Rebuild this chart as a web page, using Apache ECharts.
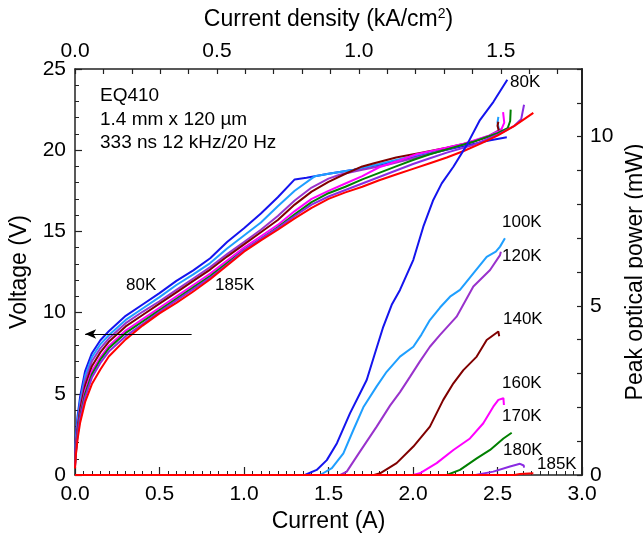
<!DOCTYPE html>
<html>
<head>
<meta charset="utf-8">
<script src="https://cdn.jsdelivr.net/npm/echarts@6/dist/echarts.min.js"></script>
<style>html,body{margin:0;padding:0;background:#fff}#c{width:643px;height:538px}</style>
</head>
<body>
<div id="c"></div>
<script>
// ---- Data (current in A, voltage in V) ----
const V80 = [[0,1.0],[0.005,2.4],[0.015,3.6],[0.03,4.8],[0.06,6.4],[0.1,7.5],[0.15,8.3],[0.2,8.85],[0.3,9.8],[0.4,10.5],[0.5,11.2],[0.6,11.95],[0.7,12.6],[0.8,13.35],[0.9,14.35],[1.0,15.2],[1.1,16.1],[1.2,17.1],[1.3,18.2],[1.37,18.3],[1.5,18.55],[1.65,18.8],[1.8,19.1],[1.92,19.4],[2.1,19.8],[2.3,20.25],[2.45,20.6],[2.555,20.8]];
const V100 = [[0,0.9],[0.005,2.1],[0.015,3.3],[0.03,4.5],[0.06,6.1],[0.1,7.25],[0.15,8.05],[0.2,8.6],[0.3,9.55],[0.4,10.25],[0.5,10.95],[0.6,11.7],[0.7,12.35],[0.8,13.05],[0.9,13.95],[1.0,14.75],[1.1,15.55],[1.2,16.55],[1.3,17.5],[1.42,18.4],[1.5,18.55],[1.65,18.8],[1.8,19.15],[1.92,19.45],[2.1,19.9],[2.3,20.35],[2.45,20.85],[2.51,21.2],[2.5,21.7],[2.505,22.05]];
const V120 = [[0,0.8],[0.005,1.9],[0.015,3.0],[0.03,4.2],[0.06,5.8],[0.1,7.0],[0.15,7.8],[0.2,8.4],[0.3,9.35],[0.4,10.05],[0.5,10.7],[0.6,11.4],[0.7,12.1],[0.8,12.8],[0.9,13.6],[1.0,14.35],[1.1,15.1],[1.2,15.95],[1.3,16.9],[1.4,17.7],[1.5,18.25],[1.57,18.5],[1.7,18.8],[1.85,19.1],[2.0,19.5],[2.15,19.9],[2.3,20.35],[2.45,20.9],[2.52,21.3]];
const V140 = [[0,0.7],[0.005,1.7],[0.015,2.8],[0.03,4.0],[0.06,5.5],[0.1,6.7],[0.15,7.55],[0.2,8.2],[0.3,9.15],[0.4,9.85],[0.5,10.55],[0.6,11.25],[0.7,11.95],[0.8,12.65],[0.9,13.45],[1.0,14.2],[1.1,14.95],[1.2,15.7],[1.3,16.65],[1.4,17.45],[1.5,18.05],[1.6,18.55],[1.7,19.0],[1.77,19.2],[1.9,19.55],[2.05,19.85],[2.2,20.15],[2.35,20.5],[2.48,20.95],[2.51,21.1],[2.5,21.5],[2.505,21.75]];
const V160 = [[0,0.6],[0.005,1.5],[0.015,2.6],[0.03,3.7],[0.06,5.2],[0.1,6.4],[0.15,7.25],[0.2,7.95],[0.3,8.9],[0.4,9.6],[0.5,10.3],[0.6,11.0],[0.7,11.7],[0.8,12.4],[0.9,13.2],[1.0,14.0],[1.1,14.7],[1.2,15.4],[1.3,16.25],[1.4,17.0],[1.5,17.5],[1.6,17.95],[1.7,18.4],[1.8,18.95],[1.9,19.3],[2.02,19.75],[2.15,20.05],[2.3,20.4],[2.45,20.9],[2.52,21.2],[2.54,21.7],[2.533,22.35]];
const V170 = [[0,0.6],[0.005,1.4],[0.015,2.5],[0.03,3.6],[0.06,5.0],[0.1,6.2],[0.15,7.1],[0.2,7.8],[0.3,8.75],[0.4,9.45],[0.5,10.15],[0.6,10.85],[0.7,11.55],[0.8,12.25],[0.9,13.05],[1.0,13.85],[1.1,14.55],[1.2,15.25],[1.3,16.05],[1.4,16.8],[1.5,17.35],[1.6,17.75],[1.7,18.2],[1.8,18.6],[1.9,19.0],[2.0,19.4],[2.1,19.75],[2.2,20.05],[2.35,20.5],[2.5,21.05],[2.56,21.35],[2.575,21.8],[2.578,22.5]];
const V180 = [[0,0.5],[0.005,1.3],[0.015,2.4],[0.03,3.5],[0.06,4.8],[0.1,6.0],[0.15,6.9],[0.2,7.6],[0.3,8.55],[0.4,9.3],[0.5,10.05],[0.6,10.75],[0.7,11.45],[0.8,12.15],[0.9,12.95],[1.0,13.85],[1.1,14.55],[1.2,15.2],[1.3,15.95],[1.4,16.65],[1.5,17.15],[1.6,17.55],[1.7,17.95],[1.8,18.35],[1.9,18.75],[2.0,19.15],[2.1,19.5],[2.2,19.85],[2.35,20.3],[2.5,20.95],[2.6,21.5],[2.64,21.9],[2.657,22.8]];
const V185 = [[0,0.4],[0.005,1.2],[0.015,2.2],[0.03,3.2],[0.06,4.5],[0.1,5.6],[0.15,6.5],[0.2,7.3],[0.3,8.35],[0.4,9.2],[0.5,9.95],[0.6,10.6],[0.7,11.3],[0.8,12.05],[0.9,12.9],[1.0,13.75],[1.1,14.45],[1.2,15.1],[1.3,15.8],[1.4,16.45],[1.5,17.0],[1.6,17.4],[1.7,17.75],[1.8,18.15],[1.9,18.5],[2.0,18.85],[2.1,19.2],[2.2,19.55],[2.3,19.95],[2.4,20.4],[2.5,20.9],[2.6,21.5],[2.712,22.3]];

// ---- Data (current in A, peak optical power in mW) ----
const L80 = [[0,0],[1.36,0],[1.43,0.15],[1.49,0.44],[1.55,0.94],[1.627,1.82],[1.686,2.41],[1.726,2.81],[1.775,3.6],[1.824,4.38],[1.874,5.03],[1.923,5.47],[2.002,6.36],[2.061,7.34],[2.12,8.13],[2.17,8.62],[2.239,9.11],[2.318,9.75],[2.396,10.49],[2.476,11.03],[2.558,11.68]];
const L100 = [[0,0],[1.45,0],[1.52,0.2],[1.588,0.64],[1.647,1.33],[1.706,2.0],[1.785,2.62],[1.844,3.05],[1.923,3.5],[2.002,3.79],[2.05,4.15],[2.1,4.58],[2.16,4.95],[2.219,5.27],[2.278,5.47],[2.357,5.96],[2.436,6.45],[2.49,6.6],[2.515,6.75],[2.544,7.0]];
const L120 = [[0,0],[1.57,0],[1.608,0.1],[1.686,0.69],[1.785,1.43],[1.864,2.05],[1.923,2.45],[1.982,2.9],[2.04,3.35],[2.1,3.79],[2.16,4.14],[2.258,4.68],[2.357,5.57],[2.456,6.06],[2.515,6.5],[2.52,6.6]];
const L140 = [[0,0],[1.77,0],[1.805,0.05],[1.903,0.35],[2.002,0.84],[2.1,1.43],[2.179,2.22],[2.239,2.71],[2.298,3.1],[2.377,3.5],[2.436,3.99],[2.505,4.24],[2.51,4.1]];
const L160 = [[0,0],[2.0,0],[2.04,0.05],[2.14,0.35],[2.239,0.74],[2.337,1.08],[2.416,1.53],[2.475,2.02],[2.505,2.22],[2.535,2.27],[2.538,2.07]];
const L170 = [[0,0],[2.2,0],[2.278,0.15],[2.377,0.49],[2.456,0.74],[2.535,1.08],[2.584,1.25]];
const L180 = [[0,0],[2.37,0],[2.475,0.1],[2.574,0.25],[2.633,0.33],[2.655,0.28],[2.657,0.22]];
const L185 = [[0,0],[2.6,0],[2.633,0.03],[2.712,0.05]];

const temps = ['80K','100K','120K','140K','160K','170K','180K','185K'];
const colors = ['#1414ee','#1e9fff','#9932cc','#800000','#ff00ff','#008000','#8a2be2','#ff0000'];
const vData = [V80,V100,V120,V140,V160,V170,V180,V185];
const lData = [L80,L100,L120,L140,L160,L170,L180,L185];

// tick labels
const xTicks = [0,0.5,1.0,1.5,2.0,2.5,3.0];
const jTicks = [0,0.5,1.0,1.5];
const vTicks = [0,5,10,15,20,25];
const pTicks = [0,5,10];
const areaCm2 = 0.14*0.012; // 1.4 mm x 120 um
const jMax = 3.0/areaCm2/1000; // kA/cm^2 at 3 A

const FONT = 'Liberation Sans, Arial, sans-serif';
const AX = '#222';
const TICKFS = 21, NAMEFS = 23;

const chart = echarts.init(document.getElementById('c'), null, {renderer:'canvas'});

const series = [];
vData.forEach((d,i)=>{
  const s = {type:'line', name:'V '+temps[i], data:d, xAxisIndex:0, yAxisIndex:0,
    showSymbol:false, symbol:'none', smooth:false, silent:true,
    lineStyle:{color:colors[i], width:2}, itemStyle:{color:colors[i]}, z:2};
  if(i===0){
    s.markLine = {silent:true, symbol:['none','arrow'], symbolSize:[7,11],
      label:{show:false}, lineStyle:{color:'#000', width:1, type:'solid'},
      data:[[{coord:[0.69,8.68]},{coord:[0.06,8.68]}]]};
  }
  series.push(s);
});
lData.forEach((d,i)=>{
  series.push({type:'line', name:'L '+temps[i], data:d, xAxisIndex:0, yAxisIndex:1,
    showSymbol:false, symbol:'none', silent:true,
    lineStyle:{color:colors[i], width:2}, itemStyle:{color:colors[i]}, z:3});
});

const near = (v, arr) => arr.some(t => Math.abs(t - v) < 1e-6);

const option = {
  animation:false,
  backgroundColor:'#fff',
  grid:{left:75, right:61, top:69, bottom:63, show:false, containLabel:false, outerBoundsMode:'none'},
  xAxis:[
    {type:'value', position:'bottom', min:0, max:3, interval:0.5,
     name:'Current (A)', nameLocation:'middle', nameGap:31,
     nameTextStyle:{fontFamily:FONT, fontSize:NAMEFS, color:'#000'},
     axisLine:{show:true, onZero:false, lineStyle:{color:AX, width:1.5}},
     axisTick:{show:true, inside:true, length:8, lineStyle:{color:AX, width:1.2}},
     minorTick:{show:true, splitNumber:10, length:4, lineStyle:{color:AX, width:1}},
     axisLabel:{fontFamily:FONT, fontSize:TICKFS, color:'#000', margin:9,
       formatter:v=> near(v,xTicks)? v.toFixed(1):''},
     splitLine:{show:false}, minorSplitLine:{show:false}},
    {type:'value', position:'top', min:0, max:jMax, interval:0.1,
     name:'Current density (kA/cm{sup|2})', nameLocation:'middle', nameGap:37,
     nameTextStyle:{fontFamily:FONT, fontSize:NAMEFS, color:'#000',
       rich:{sup:{fontFamily:FONT, fontSize:14, color:'#000', padding:[0,0,11,0]}}},
     axisLine:{show:true, onZero:false, lineStyle:{color:AX, width:1.5}},
     axisTick:{show:true, inside:true, length:5, lineStyle:{color:AX, width:1.2}},
     axisLabel:{fontFamily:FONT, fontSize:TICKFS, color:'#000', margin:7, showMaxLabel:false,
       formatter:v=> near(v,jTicks)? v.toFixed(1):''},
     splitLine:{show:false}}
  ],
  yAxis:[
    {type:'value', position:'left', min:0, max:25, interval:5,
     name:'Voltage (V)', nameLocation:'middle', nameGap:44, nameRotate:90,
     nameTextStyle:{fontFamily:FONT, fontSize:NAMEFS, color:'#000'},
     axisLine:{show:true, onZero:false, lineStyle:{color:AX, width:1.5}},
     axisTick:{show:true, inside:true, length:7, lineStyle:{color:AX, width:1.2}},
     minorTick:{show:true, splitNumber:5, length:4, lineStyle:{color:AX, width:1}},
     axisLabel:{fontFamily:FONT, fontSize:TICKFS, color:'#000', margin:9,
       formatter:v=> near(v,vTicks)? String(v):''},
     splitLine:{show:false}, minorSplitLine:{show:false}},
    {type:'value', position:'right', min:0, max:12, interval:1,
     name:'Peak optical power (mW)', nameLocation:'middle', nameGap:31, nameRotate:90,
     nameTextStyle:{fontFamily:FONT, fontSize:NAMEFS, color:'#000'},
     axisLine:{show:true, onZero:false, lineStyle:{color:AX, width:2}},
     axisTick:{show:true, inside:true, length:5, lineStyle:{color:AX, width:1.2}},
     axisLabel:{fontFamily:FONT, fontSize:TICKFS, color:'#000', margin:8,
       formatter:v=> near(v,pTicks)? String(v):''},
     splitLine:{show:false}}
  ],
  graphic:[
    {type:'text', left:100, top:86, style:{text:'EQ410', font:'19px '+FONT, fill:'#000'}},
    {type:'text', left:100, top:110, style:{text:'1.4 mm x 120 \u00b5m', font:'19px '+FONT, fill:'#000'}},
    {type:'text', left:100, top:133, style:{text:'333 ns 12 kHz/20 Hz', font:'19px '+FONT, fill:'#000'}},
    {type:'text', left:126, top:277, style:{text:'80K', font:'17px '+FONT, fill:'#000'}},
    {type:'text', left:215, top:277, style:{text:'185K', font:'17px '+FONT, fill:'#000'}},
    {type:'text', left:510, top:74, style:{text:'80K', font:'17px '+FONT, fill:'#000'}},
    {type:'text', left:502, top:214, style:{text:'100K', font:'17px '+FONT, fill:'#000'}},
    {type:'text', left:502, top:248, style:{text:'120K', font:'17px '+FONT, fill:'#000'}},
    {type:'text', left:503, top:311, style:{text:'140K', font:'17px '+FONT, fill:'#000'}},
    {type:'text', left:502, top:375, style:{text:'160K', font:'17px '+FONT, fill:'#000'}},
    {type:'text', left:502, top:408, style:{text:'170K', font:'17px '+FONT, fill:'#000'}},
    {type:'text', left:503, top:442, style:{text:'180K', font:'17px '+FONT, fill:'#000'}},
    {type:'text', left:537, top:456, style:{text:'185K', font:'17px '+FONT, fill:'#000'}}
  ],
  series:series
};
chart.setOption(option);
</script>
</body>
</html>
